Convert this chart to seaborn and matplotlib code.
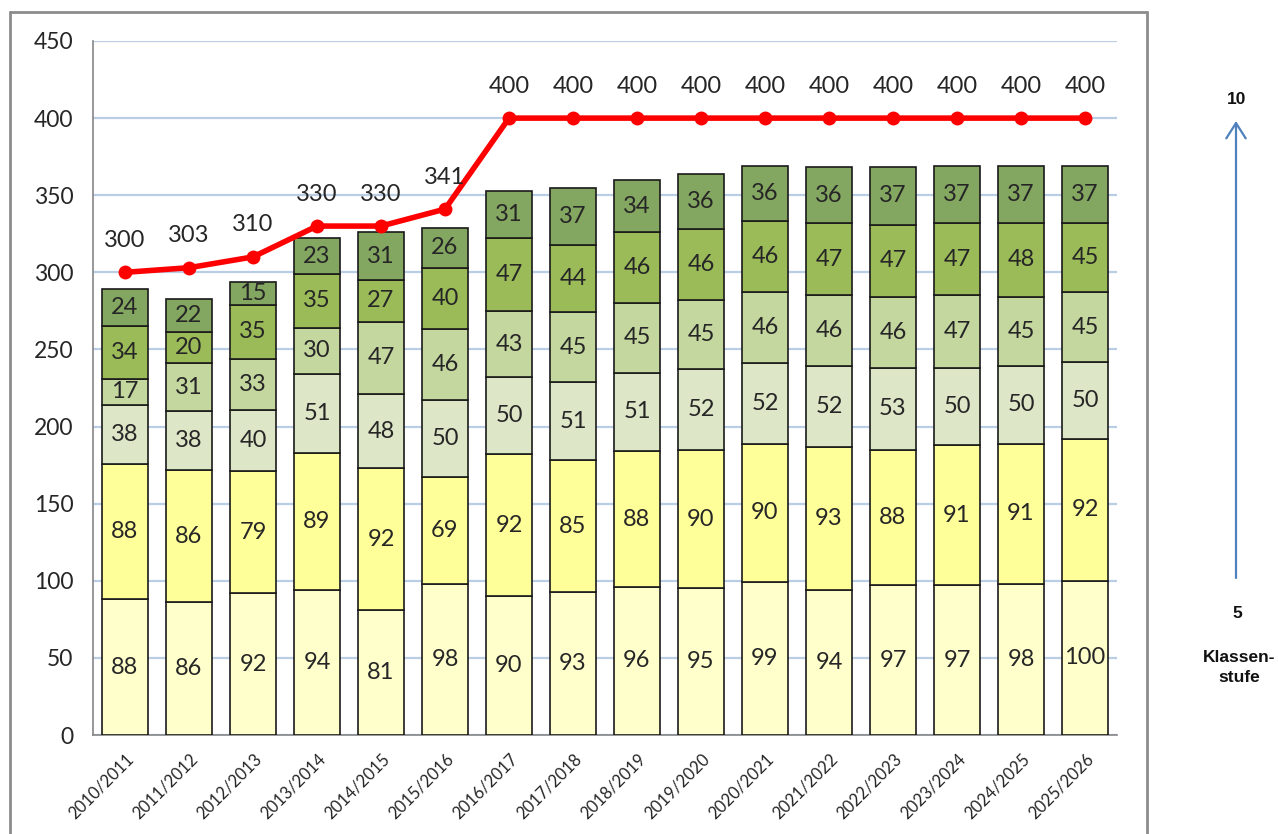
import numpy as np
import pandas as pd
import matplotlib
matplotlib.use("Agg")
import matplotlib.pyplot as plt
import seaborn as sns
from matplotlib.lines import Line2D
from matplotlib.patches import FancyArrowPatch

# School years
years = ["2010/2011", "2011/2012", "2012/2013", "2013/2014", "2014/2015", "2015/2016",
         "2016/2017", "2017/2018", "2018/2019", "2019/2020", "2020/2021", "2021/2022",
         "2022/2023", "2023/2024", "2024/2025", "2025/2026"]

# Pupils per grade level (bottom = grade 5, top = grade 10)
grade5 = [88, 86, 92, 94, 81, 98, 90, 93, 96, 95, 99, 94, 97, 97, 98, 100]
grade6 = [88, 86, 79, 89, 92, 69, 92, 85, 88, 90, 90, 93, 88, 91, 91, 92]
grade7 = [38, 38, 40, 51, 48, 50, 50, 51, 51, 52, 52, 52, 53, 50, 50, 50]
grade8 = [17, 31, 33, 30, 47, 46, 43, 45, 45, 45, 46, 46, 46, 47, 45, 45]
grade9 = [34, 20, 35, 35, 27, 40, 47, 44, 46, 46, 46, 47, 47, 47, 48, 45]
grade10 = [24, 22, 15, 23, 31, 26, 31, 37, 34, 36, 36, 36, 37, 37, 37, 37]

# Capacity line
capacity = [300, 303, 310, 330, 330, 341, 400, 400, 400, 400, 400, 400, 400, 400, 400, 400]

y_ticks = [0, 50, 100, 150, 200, 250, 300, 350, 400, 450]

segments = [grade5, grade6, grade7, grade8, grade9, grade10]
seg_colors = ["#FFFFCC", "#FFFF99", "#DDE6C6", "#C4D79F", "#9BBB59", "#83A660"]

sns.set_theme(style="white")
plt.rcParams["font.family"] = ["Lato", "DejaVu Sans"]

W, H = 1278, 834
fig = plt.figure(figsize=(W / 100, H / 100), dpi=100)
ax = fig.add_axes([93 / W, 1 - 735 / H, (1117 - 93) / W, (735 - 41) / H])
ax.set_zorder(2)

text_color = "#262626"
bottom = np.zeros(len(years))
for vals, col in zip(segments, seg_colors):
    df = pd.DataFrame({"year": years, "n": vals})
    sns.barplot(data=df, x="year", y="n", color=col, saturation=1, width=0.72,
                bottom=bottom, edgecolor="#1a1a1a", linewidth=1.2, ax=ax, zorder=3)
    for i, v in enumerate(vals):
        ax.text(i, bottom[i] + v / 2, str(v), ha="center", va="center",
                fontsize=17, color=text_color, zorder=5)
    bottom = bottom + np.array(vals)

line_df = pd.DataFrame({"pos": np.arange(len(years)), "cap": capacity})
sns.lineplot(data=line_df, x="pos", y="cap", color="#FF0000", linewidth=4,
             marker="o", markersize=10, markeredgewidth=0, ax=ax, zorder=6)
for i, v in enumerate(capacity):
    ax.annotate(str(v), (i, v), xytext=(0, 23), textcoords="offset points",
                ha="center", va="center", fontsize=17, color=text_color, zorder=7)

ax.set_xlim(-0.5, len(years) - 0.5)
ax.set_ylim(0, 450)
ax.set_yticks(y_ticks)
ax.set_yticklabels([str(t) for t in y_ticks], fontsize=16.5, color=text_color)
ax.set_xticks(np.arange(len(years)))
ax.set_xticklabels(years, rotation=45, ha="right", rotation_mode="anchor",
                   fontsize=12, color=text_color)
ax.set_xticks(np.arange(len(years) + 1) - 0.5, minor=True)
ax.tick_params(axis="x", which="major", length=0, pad=11)
ax.tick_params(axis="x", which="minor", length=7, width=1.2, color="#868686", direction="out")
ax.tick_params(axis="y", length=9, width=1.2, color="#868686", direction="out", pad=5)
ax.set_xlabel("")
ax.set_ylabel("")

ax.yaxis.grid(True, color="#B9CDE5", linewidth=1.6, zorder=0)
ax.set_axisbelow(True)
for s in ["top", "right"]:
    ax.spines[s].set_visible(False)
for s in ["left", "bottom"]:
    ax.spines[s].set_color("#868686")
    ax.spines[s].set_linewidth(1.2)
if ax.get_legend():
    ax.get_legend().remove()

# Chart frame (left, top, right edges)
frame_col = "#8C8C8C"
fx0, fx1, fy0 = 10 / W, 1147 / W, 1 - 12 / H
for xs, ys in [([fx0, fx0], [0, fy0]), ([fx0, fx1], [fy0, fy0]), ([fx1, fx1], [fy0, 0])]:
    fig.add_artist(Line2D(xs, ys, transform=fig.transFigure, color=frame_col, linewidth=2))

# Grade level arrow on the right
fig.add_artist(FancyArrowPatch(
    (1236 / W, 1 - 578 / H), (1236 / W, 1 - 121 / H), transform=fig.transFigure,
    arrowstyle="->,head_length=11,head_width=7", color="#4F81BD", linewidth=1.6,
    mutation_scale=1, shrinkA=0, shrinkB=0))
side_font = dict(family=["Liberation Sans", "DejaVu Sans"], fontweight="bold",
                 fontsize=12.5, color="#111111", ha="center", va="center")
fig.text(1237 / W, 1 - 99 / H, "10", **side_font)
fig.text(1237 / W, 1 - 614 / H, "5", **side_font)
fig.text(1239 / W, 1 - 658 / H, "Klassen-", **side_font)
fig.text(1239 / W, 1 - 678 / H, "stufe", **side_font)

fig.savefig("out.png", dpi=100)
